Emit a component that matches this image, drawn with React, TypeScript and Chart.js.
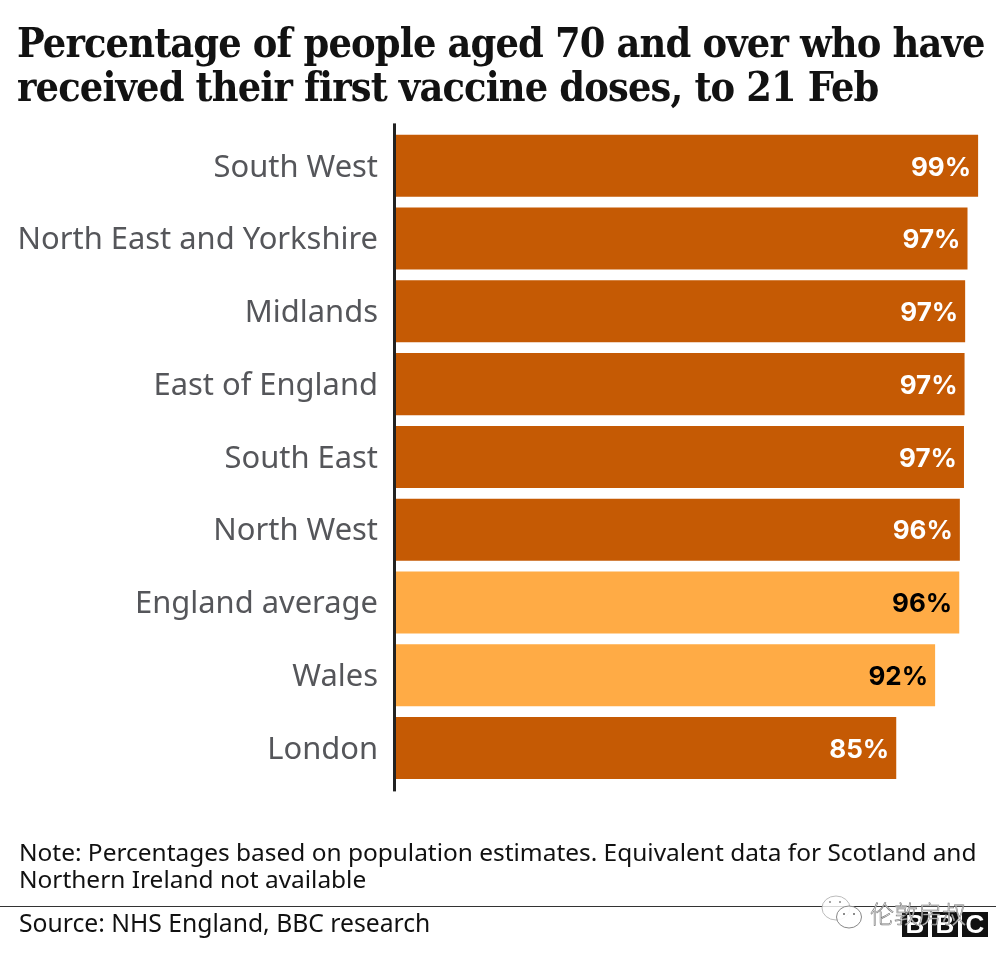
import React, { useEffect, useRef } from "react";
import { Chart, registerables } from "chart.js";

Chart.register(...registerables);

const titleLines = [
  "Percentage of people aged 70 and over who have",
  "received their first vaccine doses, to 21 Feb",
];
const regions = [
  "South West",
  "North East and Yorkshire",
  "Midlands",
  "East of England",
  "South East",
  "North West",
  "England average",
  "Wales",
  "London",
];
const shares = [99.0, 97.2, 96.8, 96.7, 96.6, 95.9, 95.8, 91.7, 85.1];
const shownLabels = ["99%", "97%", "97%", "97%", "97%", "96%", "96%", "92%", "85%"];
const highlighted = ["England average", "Wales"];
const noteLines = [
  "Note: Percentages based on population estimates. Equivalent data for Scotland and",
  "Northern Ireland not available",
];
const sourceLine = "Source: NHS England, BBC research";
const watermark = "伦敦房叔";
const logoLetters = ["B", "B", "C"];

const DARK = "#c55a04";
const LIGHT = "#ffab45";

const decorPlugin = {
  id: "decor",
  afterDatasetsDraw(chart: any) {
    const { ctx, chartArea } = chart;
    const meta = chart.getDatasetMeta(0);
    ctx.save();
    ctx.font = "700 26px Inter, 'Open Sans', sans-serif";
    ctx.textAlign = "right";
    ctx.textBaseline = "middle";
    meta.data.forEach((bar: any, i: number) => {
      ctx.fillStyle = highlighted.includes(regions[i]) ? "#000000" : "#ffffff";
      ctx.fillText(shownLabels[i], bar.x - 7, bar.y + 2);
    });
    ctx.fillStyle = "#222222";
    ctx.fillRect(chartArea.left - 2, chartArea.top - 6, 3, chartArea.height + 13);
    ctx.restore();
  },
};

export default function App() {
  const ref = useRef<HTMLCanvasElement>(null);
  useEffect(() => {
    document.body.style.margin = "0";
    document.body.style.background = "#ffffff";
    const chart = new Chart(ref.current as HTMLCanvasElement, {
      type: "bar",
      data: {
        labels: regions,
        datasets: [
          {
            data: shares,
            backgroundColor: regions.map((r) => (highlighted.includes(r) ? LIGHT : DARK)),
            categoryPercentage: 1,
            barPercentage: 0.852,
          },
        ],
      },
      options: {
        indexAxis: "y",
        animation: false,
        responsive: false,
        layout: { padding: { top: 129.4, bottom: 173.6, left: 0, right: 12 } },
        plugins: { legend: { display: false }, tooltip: { enabled: false } },
        scales: {
          x: { display: false, min: 0, max: 100 },
          y: {
            afterFit(scale: any) {
              scale.width = 395;
            },
            grid: { display: false },
            border: { display: false },
            ticks: {
              color: "#55565a",
              padding: 9,
              labelOffset: 2,
              font: { family: "'Noto Sans', 'Open Sans', sans-serif", size: 30.9 },
            },
          },
        },
      },
      plugins: [decorPlugin],
    } as any);
    return () => chart.destroy();
  }, []);

  const abs = (s: React.CSSProperties): React.CSSProperties => ({
    position: "absolute",
    whiteSpace: "nowrap",
    ...s,
  });

  return (
    <div style={{ position: "relative", width: 996, height: 958, overflow: "hidden", background: "#fff" }}>
      <canvas ref={ref} width={996} height={958} style={{ position: "absolute", left: 0, top: 0 }} />
      {titleLines.map((t, i) => (
        <div
          key={i}
          style={abs({
            left: 17,
            top: 18 + i * 44,
            font: "700 41px/50px 'DejaVu Serif Condensed', 'DejaVu Serif', serif",
            fontStretch: "condensed",
            letterSpacing: "-0.86px",
            color: "#121212",
          })}
        >
          {t}
        </div>
      ))}
      {noteLines.map((t, i) => (
        <div key={i} style={abs({ left: 19, top: 837 + i * 27, font: "24.45px/30px 'Noto Sans', sans-serif", color: "#111" })}>
          {t}
        </div>
      ))}
      <div style={abs({ left: 0, top: 906, width: 996, height: 1, background: "#333" })} />
      <div style={abs({ left: 19, top: 908, font: "24.7px/30px 'Noto Sans', sans-serif", color: "#111" })}>{sourceLine}</div>
      {logoLetters.map((l, i) => (
        <div
          key={i}
          style={abs({
            left: 902 + i * 30,
            top: 912,
            width: 26,
            height: 25,
            background: "#111",
            color: "#fff",
            font: "700 26px/25px 'Liberation Sans', sans-serif",
            textAlign: "center",
          })}
        >
          {l}
        </div>
      ))}
      <div
        style={abs({
          left: 870,
          top: 898,
          font: "300 24px/30px 'Noto Sans CJK SC', sans-serif",
          color: "rgba(255,255,255,0.85)",
          WebkitTextStroke: "0.6px #777",
        } as any)}
      >
        {watermark}
      </div>
      <svg style={abs({ left: 820, top: 894 })} width="44" height="38" viewBox="0 0 44 38">
        <ellipse cx="16" cy="14" rx="14" ry="12" fill="rgba(255,255,255,0.8)" stroke="#bbb" />
        <ellipse cx="29" cy="23" rx="12.5" ry="11" fill="rgba(255,255,255,0.9)" stroke="#888" />
        <circle cx="10" cy="8" r="1" fill="#888" />
        <circle cx="20" cy="8" r="1" fill="#888" />
        <circle cx="24" cy="20" r="1" fill="#666" />
        <circle cx="34" cy="20" r="1" fill="#666" />
      </svg>
    </div>
  );
}
